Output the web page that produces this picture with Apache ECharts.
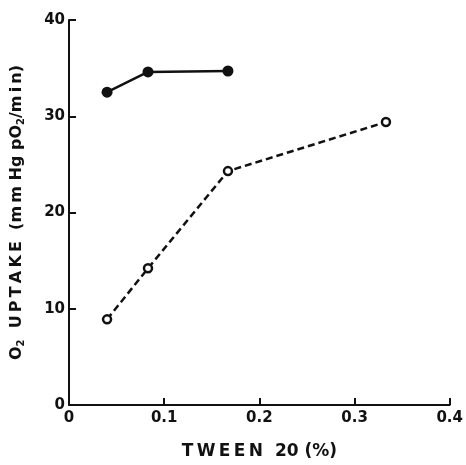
<!DOCTYPE html>
<html><head><meta charset="utf-8">
<script src="https://cdn.jsdelivr.net/npm/echarts@6/dist/echarts.min.js"></script>
<style>html,body{margin:0;padding:0;background:#fff}#c{width:466px;height:465px}</style>
</head><body><div id="c"></div>
<script>
const xTicks = [0, 0.1, 0.2, 0.3, 0.4];
const yTicks = [0, 10, 20, 30, 40];
const filledX = [0.04, 0.083, 0.167];
const filledY = [32.5, 34.6, 34.7];
const openX = [0.04, 0.083, 0.167, 0.333];
const openY = [8.9, 14.2, 24.3, 29.4];

const chart = echarts.init(document.getElementById('c'), null, {renderer: 'canvas'});
const font = '"DejaVu Sans", sans-serif';
const t = '\u2009';
const yName = 'O{s|2}  ' + 'UPTAKE'.split('').join(t) + '  (' + 'mm'.split('').join(t) + ' Hg p' + 'O{s|2}/' + 'min'.split('').join(t) + ')';
chart.setOption({
  animation: false,
  backgroundColor: '#fff',
  grid: {left: 69, right: 15, top: 20, bottom: 58},
  xAxis: {
    type: 'value', min: 0, max: 0.4, interval: 0.1,
    name: 'T' + t + 'W' + t + 'E' + t + 'E' + t + 'N  20 (%)', nameLocation: 'middle', nameGap: 38,
    nameTextStyle: {fontFamily: font, fontWeight: 'bold', fontSize: 17, color: '#111'},
    axisLine: {lineStyle: {color: '#111', width: 2}},
    axisTick: {inside: true, length: 7, lineStyle: {color: '#111', width: 2}},
    splitLine: {show: false},
    axisLabel: {fontFamily: font, fontWeight: 'bold', fontSize: 15, color: '#111', margin: 6,
      formatter: v => xTicks.includes(+v.toFixed(1)) ? (v === 0 ? '0' : v.toFixed(1)) : ''}
  },
  yAxis: {
    type: 'value', min: 0, max: 40, interval: 10,
    name: yName, nameLocation: 'middle', nameGap: 44,
    nameTextStyle: {fontFamily: font, fontWeight: 'bold', fontSize: 16, color: '#111',
      rich: {s: {fontFamily: font, fontWeight: 'bold', fontSize: 10, color: '#111', padding: [0, 0, -8, 0]}}},
    axisLine: {show: true, lineStyle: {color: '#111', width: 2}},
    axisTick: {show: true, inside: true, length: 7, lineStyle: {color: '#111', width: 2}},
    splitLine: {show: false},
    axisLabel: {fontFamily: font, fontWeight: 'bold', fontSize: 15, color: '#111', margin: 4,
      formatter: v => yTicks.includes(v) ? String(v) : ''}
  },
  series: [
    {
      type: 'line', data: filledX.map((x, i) => [x, filledY[i]]),
      symbol: 'circle', symbolSize: 11,
      itemStyle: {color: '#111'},
      lineStyle: {color: '#111', width: 2.5}
    },
    {
      type: 'line', data: openX.map((x, i) => [x, openY[i]]),
      symbol: 'circle', symbolSize: 8,
      itemStyle: {color: '#fff', borderColor: '#111', borderWidth: 2.5},
      lineStyle: {color: '#111', width: 2.5, type: [7, 4]}
    }
  ]
});
</script></body></html>
